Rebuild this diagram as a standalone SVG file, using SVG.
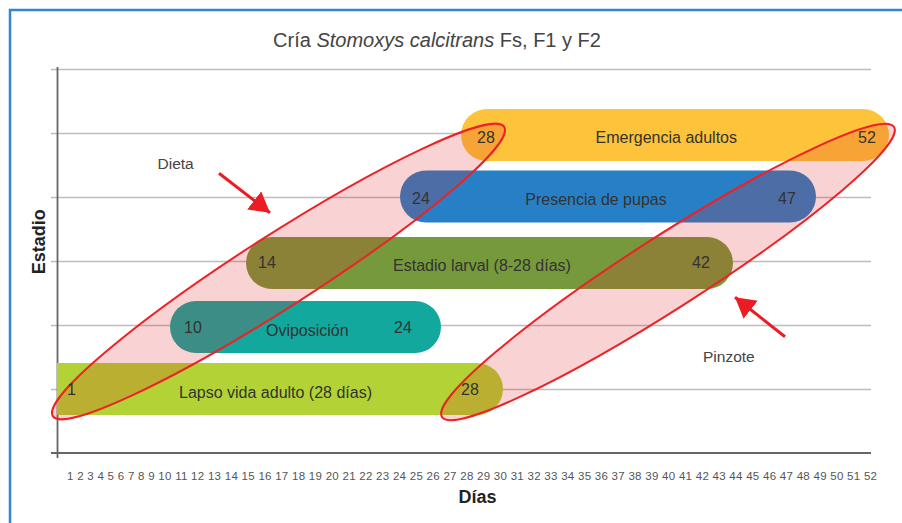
<svg xmlns="http://www.w3.org/2000/svg" width="902" height="523" viewBox="0 0 902 523">
<defs>
<style>
.grid{stroke:#bdbdbd;stroke-width:1.5;fill:none}
.axis{stroke:#666;stroke-width:1.8;fill:none}
.lbl{font-family:"Liberation Sans",Arial,sans-serif;font-size:16px;fill:#333}
.ann{font-family:"Liberation Sans",Arial,sans-serif;font-size:15.5px;fill:#444}
.bold{font-family:"Liberation Sans",Arial,sans-serif;font-size:18px;font-weight:bold;fill:#222}
.oval{fill:rgb(225,35,40);fill-opacity:0.2;stroke:#ec2227;stroke-width:2}
.arrow{stroke:#ec1c24;stroke-width:3;fill:none}
</style>
<marker id="ah" markerUnits="userSpaceOnUse" markerWidth="21" markerHeight="24" refX="20" refY="11.5" orient="auto">
<path d="M0,0 L20,11.5 L0,23 Z" fill="#ec1c24"/>
</marker>
</defs>
<rect width="902" height="523" fill="#fff"/>
<g id="frame">
<line x1="9" y1="10" x2="902" y2="10" stroke="#2f86cf" stroke-width="2.5"/>
<line x1="10" y1="9" x2="10" y2="523" stroke="#2f86cf" stroke-width="2.5"/>
</g>
<text id="title" x="437" y="47" text-anchor="middle" font-family="Liberation Sans, Arial, sans-serif" font-size="20" fill="#444">Cría <tspan font-style="italic">Stomoxys calcitrans</tspan> Fs, F1 y F2</text>
<g id="grid">
<line class="grid" x1="51" y1="69.5" x2="871" y2="69.5"/>
<line class="grid" x1="51" y1="133.5" x2="871" y2="133.5"/>
<line class="grid" x1="51" y1="197.5" x2="871" y2="197.5"/>
<line class="grid" x1="51" y1="261.5" x2="871" y2="261.5"/>
<line class="grid" x1="51" y1="325.5" x2="871" y2="325.5"/>
<line class="grid" x1="51" y1="389.5" x2="871" y2="389.5"/>
</g>
<g id="axes">
<line class="axis" x1="57.5" y1="67" x2="57.5" y2="458"/>
<line class="axis" x1="51" y1="453" x2="871" y2="453"/>
<text x="67" y="480" textLength="810" lengthAdjust="spacing" font-family="Liberation Sans, Arial, sans-serif" font-size="11.5" fill="#555">1 2 3 4 5 6 7 8 9 10 11 12 13 14 15 16 17 18 19 20 21 22 23 24 25 26 27 28 29 30 31 32 33 34 35 36 37 38 39 40 41 42 43 44 45 46 47 48 49 50 51 52</text>
<text class="bold" x="477.5" y="503" text-anchor="middle">Días</text>
<text class="bold" transform="translate(45,241.7) rotate(-90)" text-anchor="middle">Estadio</text>
</g>
<g id="bar-lapso"><path d="M57,363 H477 A26,26 0 0 1 477,415 H57 Z" fill="#b2d235"/></g>
<g id="bar-oviposicion"><rect x="170" y="301" width="271" height="52" rx="26" fill="#12a89d"/></g>
<g id="bar-larval"><rect x="246" y="237" width="487" height="52" rx="26" fill="#76993b"/></g>
<g id="bar-pupas"><rect x="400" y="170.5" width="416" height="52" rx="26" fill="#2780c5"/></g>
<g id="bar-emergencia"><rect x="461" y="109" width="428" height="52" rx="26" fill="#fdc33a"/></g>
<g id="oval-dieta"><ellipse class="oval" cx="0" cy="0" rx="268" ry="36" transform="translate(278.5,271.5) rotate(-32.65)"/></g>
<g id="oval-pinzote"><ellipse class="oval" cx="0" cy="0" rx="268.5" ry="36" transform="translate(668,272) rotate(-32.68)"/></g>
<g id="labels">
<text class="lbl" x="67" y="395">1</text>
<text class="lbl" x="179" y="398" textLength="193" lengthAdjust="spacing">Lapso vida adulto (28 días)</text>
<text class="lbl" x="461" y="395">28</text>
<text class="lbl" x="184" y="333.3">10</text>
<text class="lbl" x="307.3" y="335.5" text-anchor="middle">Oviposición</text>
<text class="lbl" x="394" y="333.3">24</text>
<text class="lbl" x="258" y="268">14</text>
<text class="lbl" x="482" y="270.5" text-anchor="middle">Estadio larval (8-28 días)</text>
<text class="lbl" x="692" y="268">42</text>
<text class="lbl" x="412" y="204">24</text>
<text class="lbl" x="596" y="204.5" text-anchor="middle">Presencia de pupas</text>
<text class="lbl" x="778" y="204">47</text>
<text class="lbl" x="477" y="143.3">28</text>
<text class="lbl" x="666.3" y="143.3" text-anchor="middle">Emergencia adultos</text>
<text class="lbl" x="858" y="143.3">52</text>
</g>
<g id="note-dieta"><text class="ann" x="157.5" y="168.5">Dieta</text></g>
<g id="note-pinzote"><text class="ann" x="703" y="362">Pinzote</text></g>
<g id="connectors">
<line class="arrow" x1="219" y1="173.3" x2="270" y2="212.7" marker-end="url(#ah)"/>
<line class="arrow" x1="785" y1="336.7" x2="735" y2="297.3" marker-end="url(#ah)"/>
</g>
</svg>
